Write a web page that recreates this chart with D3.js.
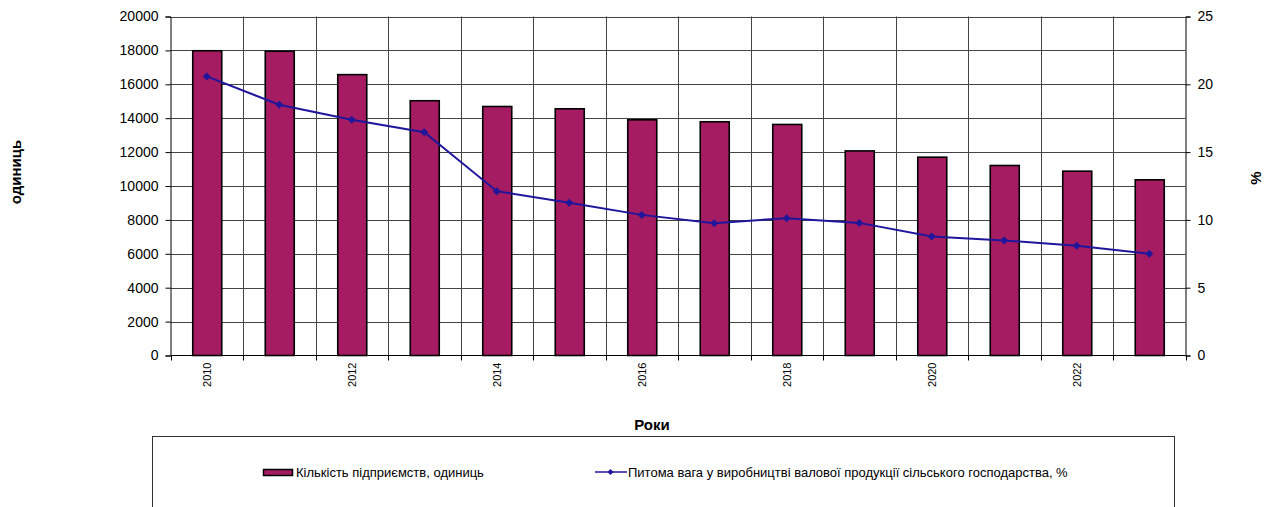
<!DOCTYPE html>
<html>
<head>
<meta charset="utf-8">
<script src="https://cdn.jsdelivr.net/npm/d3@7"></script>
<style>
  html, body { margin: 0; padding: 0; background: #fff; }
  svg { display: block; font-family: "Liberation Sans", Arial, sans-serif; }
</style>
</head>
<body>
<svg id="chart" width="1270" height="507"></svg>
<script>
// Years on the category axis
const years = [2010, 2011, 2012, 2013, 2014, 2015, 2016, 2017, 2018, 2019, 2020, 2021, 2022, 2023];
// Number of enterprises, units
const enterprises = [17980, 17950, 16570, 15030, 14690, 14555, 13905, 13790, 13630, 12070, 11700, 11210, 10875, 10365];
// Share in gross agricultural output, %
const share = [20.58, 18.49, 17.38, 16.47, 12.12, 11.26, 10.37, 9.76, 10.13, 9.78, 8.78, 8.48, 8.09, 7.50];
// Axis ticks
const leftTicks = [0, 2000, 4000, 6000, 8000, 10000, 12000, 14000, 16000, 18000, 20000];
const rightTicks = [0, 5, 10, 15, 20, 25];
const yearLabels = [2010, 2012, 2014, 2016, 2018, 2020, 2022];

const barLabel = "Кількість підприємств, одиниць";
const lineLabel = "Питома вага у виробництві валової продукції сільського господарства, %";

const svg = d3.select("#chart");
const m = { left: 170.5, right: 1185.5, top: 16.5, bottom: 355.5 };

const x = d3.scaleBand().domain(years).range([m.left, m.right]).paddingInner(0).paddingOuter(0);
const yL = d3.scaleLinear().domain([0, 20000]).range([m.bottom, m.top]);
const yR = d3.scaleLinear().domain([0, 25]).range([m.bottom, m.top]);

const barColor = "#a51c62";
const lineColor = "#1f169c";
const gridColor = "#444";

// Horizontal gridlines
svg.append("g").selectAll("line").data(leftTicks.slice(1)).join("line")
  .attr("x1", m.left).attr("x2", m.right)
  .attr("y1", d => Math.round(yL(d)) + 0.5).attr("y2", d => Math.round(yL(d)) + 0.5)
  .attr("stroke", gridColor).attr("stroke-width", 1);

// Vertical gridlines at category boundaries
svg.append("g").selectAll("line").data(years.slice(1)).join("line")
  .attr("x1", d => Math.round(x(d)) + 0.5).attr("x2", d => Math.round(x(d)) + 0.5)
  .attr("y1", m.top).attr("y2", m.bottom)
  .attr("stroke", gridColor).attr("stroke-width", 1);

// Bars
const bw = x.bandwidth() * 0.4;
svg.append("g").selectAll("rect").data(years).join("rect")
  .attr("x", (d, i) => x(d) + x.bandwidth() / 2 - bw / 2 + 0.5)
  .attr("y", (d, i) => yL(enterprises[i]))
  .attr("width", bw)
  .attr("height", (d, i) => yL(0) - yL(enterprises[i]))
  .attr("fill", barColor).attr("stroke", "#000").attr("stroke-width", 1.6);

// Left axis
const axL = svg.append("g").attr("transform", `translate(${m.left},0)`)
  .call(d3.axisLeft(yL).tickValues(leftTicks).tickSize(5).tickPadding(7).tickFormat(d3.format("d")));
// Right axis
const axR = svg.append("g").attr("transform", `translate(${m.right},0)`)
  .call(d3.axisRight(yR).tickValues(rightTicks).tickSize(5).tickPadding(7).tickFormat(d3.format("d")));
// Bottom axis, ticks at category boundaries
const edges = years.map(d => x(d)).concat([m.right]);
const axB = svg.append("g").attr("transform", `translate(0,${m.bottom})`);
axB.append("line").attr("x1", m.left).attr("x2", m.right).attr("stroke", "#000");
axB.selectAll("line.tk").data(edges).join("line").attr("class", "tk")
  .attr("x1", d => Math.round(d) + 0.5).attr("x2", d => Math.round(d) + 0.5)
  .attr("y1", 0).attr("y2", 5).attr("stroke", "#000");
axB.selectAll("text").data(yearLabels).join("text")
  .attr("transform", d => `translate(${x(d) + x.bandwidth() / 2 + 4},${7}) rotate(-90)`)
  .attr("text-anchor", "end")
  .attr("font-size", 11).attr("fill", "#000")
  .text(d => d);

[axL, axR].forEach(ax => {
  ax.select(".domain").attr("stroke", "#000");
  ax.selectAll(".tick line").attr("stroke", "#000");
  ax.selectAll(".tick text").attr("font-size", 14).attr("font-family", "Liberation Sans, Arial, sans-serif").attr("fill", "#000");
});

// Line series with diamond markers
const line = d3.line().x((d, i) => x(years[i]) + x.bandwidth() / 2).y(d => yR(d));
svg.append("path").datum(share).attr("d", line)
  .attr("fill", "none").attr("stroke", lineColor).attr("stroke-width", 2);
svg.append("g").selectAll("path").data(share).join("path")
  .attr("transform", (d, i) => `translate(${x(years[i]) + x.bandwidth() / 2},${yR(d)})`)
  .attr("d", "M0,-4L4,0L0,4L-4,0Z")
  .attr("fill", lineColor);

// Axis titles
svg.append("text").attr("transform", "translate(21,172) rotate(-90)")
  .attr("text-anchor", "middle").attr("font-size", 15).attr("font-weight", "bold").text("одиниць");
svg.append("text").attr("transform", "translate(1261,178) rotate(-90)")
  .attr("text-anchor", "middle").attr("font-size", 15).attr("font-weight", "bold").text("%");
svg.append("text").attr("x", 652).attr("y", 430)
  .attr("text-anchor", "middle").attr("font-size", 15).attr("font-weight", "bold").text("Роки");

// Legend
const lg = svg.append("g");
lg.append("rect").attr("x", 152.5).attr("y", 436.5).attr("width", 1022).attr("height", 80)
  .attr("fill", "#fff").attr("stroke", "#333").attr("stroke-width", 1);
lg.append("rect").attr("x", 263.5).attr("y", 469.5).attr("width", 29).attr("height", 6)
  .attr("fill", barColor).attr("stroke", "#000").attr("stroke-width", 1.5);
lg.append("text").attr("x", 296).attr("y", 477).attr("font-size", 13).text(barLabel);
lg.append("line").attr("x1", 595).attr("x2", 627).attr("y1", 472).attr("y2", 472)
  .attr("stroke", lineColor).attr("stroke-width", 1.5);
lg.append("path").attr("transform", "translate(610.5,472)").attr("d", "M0,-3L3,0L0,3L-3,0Z").attr("fill", lineColor);
lg.append("text").attr("x", 628).attr("y", 477).attr("font-size", 13).text(lineLabel);
</script>
</body>
</html>
